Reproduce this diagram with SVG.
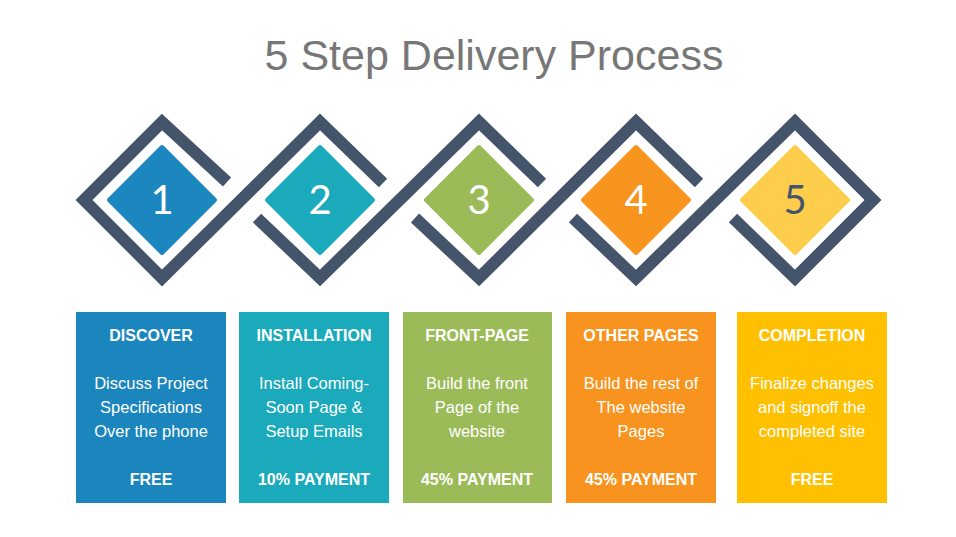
<svg xmlns="http://www.w3.org/2000/svg" width="956" height="537" viewBox="0 0 956 537">
<style>
.t{font-family:"Liberation Sans",Arial,sans-serif;fill:#fff;text-anchor:middle}
.h{font-size:16px;font-weight:bold}
.b{font-size:16.5px}
.n{font-family:"Lato","Liberation Sans",sans-serif;font-size:40px;fill:#fff;text-anchor:middle}
.f{fill:none;stroke:#44546A;stroke-width:12;stroke-linejoin:miter}
</style>
<rect width="956" height="537" fill="#fff"/>
<text x="494" y="70" font-family="Liberation Sans,Arial,sans-serif" font-size="43" fill="#777" text-anchor="middle">5 Step Delivery Process</text>
<g id="connectors">
<path class="f" d="M227,182 L162,122 L84,200 L162,278 L320,122 L383,183"/>
<path class="f" d="M257,218 L320,278 L479,122 L542,183"/>
<path class="f" d="M415,218 L479,278 L636,122 L699,183"/>
<path class="f" d="M573,218 L636,278 L795,122 L873,200 L795,278 L733,218"/>
</g>
<g id="step1"><path d="M162,147 L215,200 L162,253 L109,200 Z" fill="#1B87BE" stroke="#1B87BE" stroke-width="4" stroke-linejoin="round"/><text class="n" x="162" y="214">1</text></g>
<g id="step2"><path d="M320,147 L373,200 L320,253 L267,200 Z" fill="#1AAABB" stroke="#1AAABB" stroke-width="4" stroke-linejoin="round"/><text class="n" x="320" y="214">2</text></g>
<g id="step3"><path d="M479,147 L532,200 L479,253 L426,200 Z" fill="#9BBB59" stroke="#9BBB59" stroke-width="4" stroke-linejoin="round"/><text class="n" x="479" y="214">3</text></g>
<g id="step4"><path d="M636,147 L689,200 L636,253 L583,200 Z" fill="#F7941D" stroke="#F7941D" stroke-width="4" stroke-linejoin="round"/><text class="n" x="636" y="214">4</text></g>
<g id="step5"><path d="M795,147 L848,200 L795,253 L742,200 Z" fill="#FFCD4C" stroke="#FFCD4C" stroke-width="4" stroke-linejoin="round"/><text class="n" x="795" y="214" style="fill:#44546A">5</text></g>
<g id="box1"><rect x="76" y="312" width="150" height="191" fill="#1B85BD"/>
<text class="t h" x="151" y="341">DISCOVER</text>
<text class="t b" x="151" y="389">Discuss Project</text><text class="t b" x="151" y="413">Specifications</text><text class="t b" x="151" y="437">Over the phone</text>
<text class="t h" x="151" y="485">FREE</text></g>
<g id="box2"><rect x="239" y="312" width="150" height="191" fill="#1AAABB"/>
<text class="t h" x="314" y="341">INSTALLATION</text>
<text class="t b" x="314" y="389">Install Coming-</text><text class="t b" x="314" y="413">Soon Page &amp;</text><text class="t b" x="314" y="437">Setup Emails</text>
<text class="t h" x="314" y="485">10% PAYMENT</text></g>
<g id="box3"><rect x="403" y="312" width="149" height="191" fill="#9BBB59"/>
<text class="t h" x="477" y="341">FRONT-PAGE</text>
<text class="t b" x="477" y="389">Build the front</text><text class="t b" x="477" y="413">Page of the</text><text class="t b" x="477" y="437">website</text>
<text class="t h" x="477" y="485">45% PAYMENT</text></g>
<g id="box4"><rect x="566" y="312" width="150" height="191" fill="#F7931E"/>
<text class="t h" x="641" y="341">OTHER PAGES</text>
<text class="t b" x="641" y="389">Build the rest of</text><text class="t b" x="641" y="413">The website</text><text class="t b" x="641" y="437">Pages</text>
<text class="t h" x="641" y="485">45% PAYMENT</text></g>
<g id="box5"><rect x="737" y="312" width="150" height="191" fill="#FFC000"/>
<text class="t h" x="812" y="341">COMPLETION</text>
<text class="t b" x="812" y="389">Finalize changes</text><text class="t b" x="812" y="413">and signoff the</text><text class="t b" x="812" y="437">completed site</text>
<text class="t h" x="812" y="485">FREE</text></g>
</svg>
